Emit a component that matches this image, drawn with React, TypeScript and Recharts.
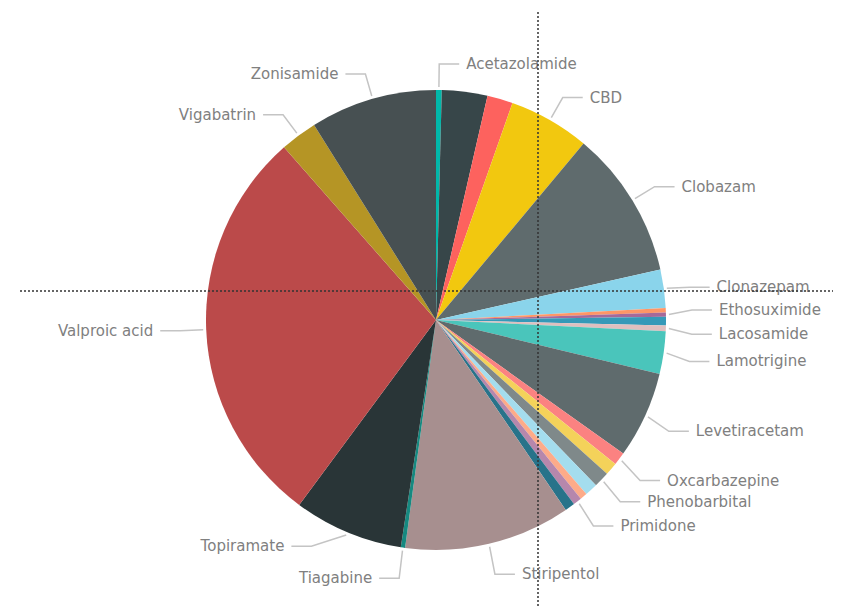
import { Pie, PieChart, Cell } from "recharts"

const drugs = [
  "Acetazolamide", "Brivaracetam", "Carbamazepine", "CBD", "Clobazam", "Clonazepam",
  "Diazepam", "Ethosuximide", "Gabapentin", "Lacosamide", "Lamotrigine", "Levetiracetam",
  "Oxcarbazepine", "Perampanel", "Phenobarbital", "Phenytoin", "Pregabalin", "Primidone",
  "Rufinamide", "Stiripentol", "Tiagabine", "Topiramate", "Valproic acid", "Vigabatrin", "Zonisamide",
]

const shares = [
  0.4, 3.2, 1.8, 5.7, 10.4, 2.7,
  0.3, 0.3, 0.6, 0.4, 3.0, 6.1,
  0.9, 0.9, 1.1, 0.9, 0.5, 0.6,
  0.7, 11.7, 0.3, 7.7, 28.4, 2.6, 8.9,
]

const labelled = [
  "Acetazolamide", "CBD", "Clobazam", "Clonazepam", "Ethosuximide", "Lacosamide", "Lamotrigine",
  "Levetiracetam", "Oxcarbazepine", "Phenobarbital", "Primidone", "Stiripentol", "Tiagabine",
  "Topiramate", "Valproic acid", "Vigabatrin", "Zonisamide",
]

const palette = [
  "#01B8AA", "#374649", "#FD625E", "#F2C80F", "#5F6B6D", "#8AD4EB", "#FE9666", "#A66999",
  "#3599B8", "#DFBFBF", "#4AC5BB", "#5F6B6D", "#FB8281", "#F4D25A", "#7F898A", "#A4DDEE",
  "#FDAB89", "#B687AC", "#28738A", "#A78F8F", "#168980", "#293537", "#BB4A4A", "#B59525",
  "#475052",
]

// label collision tweaks (elbow offset in px), like Power BI's label layout
const labelNudge: Record<string, [number, number]> = {
  Clonazepam: [0, 2],
  Ethosuximide: [0, -4],
  Lacosamide: [0, 5],
  Lamotrigine: [0, 5],
  Levetiracetam: [0, 5],
  Oxcarbazepine: [0, 6],
  Phenobarbital: [0, 4],
  Primidone: [0, 4],
  Stiripentol: [0, 5],
  Tiagabine: [0, 5],
  Topiramate: [-26, -10],
}

const data = drugs.map((name, i) => ({ name, value: shares[i] }))

const RADIAN = Math.PI / 180

function renderLabel(props: any) {
  const { cx, cy, midAngle, outerRadius, name } = props
  if (!labelled.includes(name)) return null
  const [ndx, ndy] = labelNudge[name] || [0, 0]
  const cos = Math.cos(-midAngle * RADIAN)
  const sin = Math.sin(-midAngle * RADIAN)
  const sx = cx + (outerRadius + 3) * cos
  const sy = cy + (outerRadius + 3) * sin
  const mx = cx + (outerRadius + 26) * cos + ndx
  const my = cy + (outerRadius + 26) * sin + ndy
  const right = cos >= 0
  const ex = mx + (right ? 20 : -20)
  return (
    <g key={name}>
      <polyline points={`${sx},${sy} ${mx},${my} ${ex},${my}`} fill="none" stroke="#c4c4c4" strokeWidth={1.5} />
      <text
        x={ex + (right ? 7 : -7)}
        y={my}
        textAnchor={right ? "start" : "end"}
        dominantBaseline="central"
        fill="#808080"
        fontSize={15}
        fontFamily="DejaVu Sans, sans-serif"
      >
        {name}
      </text>
    </g>
  )
}

export default function App() {
  return (
    <div style={{ position: "relative", width: 833, height: 600 }}>
      <PieChart width={833} height={600}>
        <Pie
          data={data}
          dataKey="value"
          nameKey="name"
          cx={423}
          cy={307}
          outerRadius={230}
          startAngle={90}
          endAngle={-270}
          stroke="none"
          label={renderLabel}
          labelLine={false}
          isAnimationActive={false}
        >
          {data.map((d, i) => (
            <Cell key={d.name} fill={palette[i]} />
          ))}
        </Pie>
      </PieChart>
      <svg width={833} height={600} style={{ position: "absolute", left: 0, top: 0, pointerEvents: "none" }}>
        <line x1={530} y1={4} x2={530} y2={600} stroke="#333" strokeWidth={1.5} strokeDasharray="2 2" />
        <line x1={12} y1={283} x2={828} y2={283} stroke="#333" strokeWidth={1.5} strokeDasharray="2 2" />
      </svg>
    </div>
  )
}
